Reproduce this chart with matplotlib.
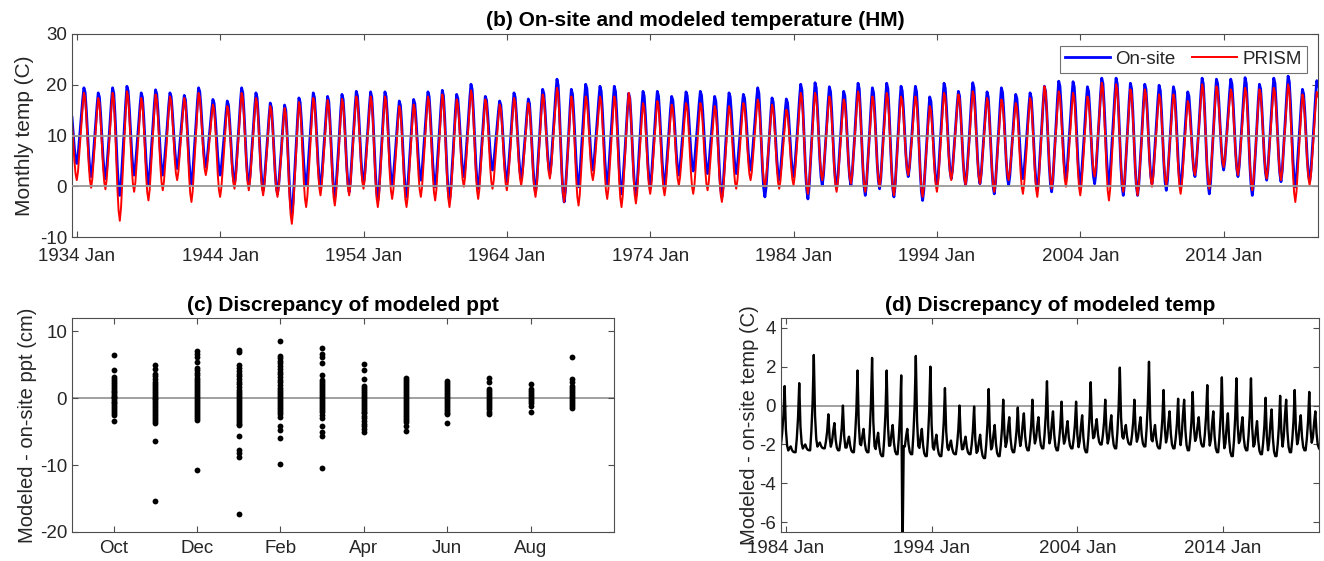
import matplotlib
matplotlib.use("Agg")
import matplotlib.pyplot as plt
import matplotlib.dates as mdates
import numpy as np
import pandas as pd
from datetime import datetime

# ---- (b) on-site vs PRISM monthly temperature, summer peak / January low per year (1933..2020)
FIRST_YEAR = 1933
ONSITE_PEAK = [16.6, 19.4, 18.4, 19.4, 19.7, 18.4, 19.0,
               18.4, 17.9, 19.4, 17.1, 16.8, 19.4, 18.4, 16.4, 16.0, 17.4,
               18.4, 17.7, 18.1, 18.7, 18.6, 18.6, 16.8, 17.1, 18.6, 18.9,
               18.1, 20.1, 17.7, 16.8, 18.4, 17.2, 19.1, 21.1, 19.1, 20.1,
               19.7, 19.7, 18.3, 18.7, 18.7, 17.7, 18.6, 18.7, 17.7, 18.4,
               18.1, 19.4, 17.4, 17.2, 20.1, 20.4, 19.6, 18.7, 20.3, 19.4,
               20.3, 19.7, 19.7, 17.6, 20.3, 18.7, 20.4, 18.6, 19.4, 18.1,
               18.4, 19.7, 20.7, 20.6, 19.6, 21.3, 21.3, 20.3, 20.1, 19.9,
               19.6, 18.6, 21.3, 21.1, 21.1, 21.4, 20.1, 21.3, 21.7, 19.1,
               20.8]
ONSITE_LOW = [5.0, 4.5, 1.9, 1.5, -1.8, 2.2, 0.5,
              2.2, 3.5, 0.5, 3.8, 2.2, 0.5, 0.2, -0.8, -1.5, -5.4,
              0.2, -0.1, -2.1, -1.1, 0.5, -2.8, 0.2, -2.1, 1.2, -0.1,
              -2.8, 1.9, -0.5, 3.2, 0.9, 1.5, -1.1, 2.5, -3.1, -0.1,
              3.2, 0.5, -1.5, -1.8, -0.1, 0.2, 2.2, 3.0, 2.5, -2.1,
              2.5, 3.2, -2.1, 1.2, 1.9, -2.5, 0.2, -0.5, 0.2, -1.8,
              -0.5, -2.1, 1.9, -2.8, -0.1, 1.5, 0.2, 0.5, -1.5, 0.2,
              1.5, -0.8, -1.1, 1.5, 0.2, 0.5, 0.5, -1.8, -1.8, 0.5,
              -0.8, -0.1, 1.9, -1.5, 3.2, 1.9, -1.8, 1.2, 0.9, -0.1,
              0.9]
PRISM_PEAK = [16.4, 18.4, 17.4, 18.4, 18.7, 17.4, 18.1,
              17.7, 17.4, 18.4, 16.1, 15.8, 18.4, 17.4, 15.8, 15.4, 16.6,
              17.4, 17.0, 17.2, 17.7, 17.7, 17.7, 15.8, 16.1, 17.7, 18.1,
              17.1, 18.9, 17.1, 16.1, 17.4, 16.4, 18.1, 19.4, 17.7, 17.7,
              17.7, 17.7, 18.4, 16.4, 16.8, 16.1, 16.4, 16.4, 15.8, 15.8,
              16.4, 17.1, 16.1, 15.1, 18.4, 18.4, 17.7, 17.1, 18.7, 17.7,
              18.4, 17.7, 17.7, 15.8, 18.4, 18.1, 18.7, 17.4, 17.1, 16.4,
              17.4, 19.7, 18.7, 18.4, 17.7, 20.4, 20.1, 19.1, 19.1, 18.1,
              18.1, 16.8, 20.1, 19.7, 19.1, 19.4, 19.1, 19.4, 20.1, 18.1,
              18.6]
PRISM_LOW = [4.0, 1.2, -0.3, -0.6, -6.8, -1.1, -2.8,
             -0.8, 1.2, -3.1, 2.2, -2.1, -0.5, -0.8, -1.8, -2.1, -7.4,
             -4.1, -1.8, -3.8, -1.8, -0.5, -4.1, -2.5, -4.1, -2.1, -2.8,
             -4.1, -0.1, -2.5, -0.5, -0.8, 0.2, -2.1, 1.5, -3.1, -3.8,
             1.2, -2.5, -4.1, -3.4, -1.5, -1.8, 0.2, -1.5, -0.8, -3.1,
             -0.5, 1.2, -0.1, -0.5, 0.2, -1.5, 1.2, -1.1, 0.5, -1.1,
             -0.1, -1.8, 2.2, -2.1, -1.1, 1.2, 0.2, 0.5, -1.1, 1.2,
             -1.5, -2.1, -0.5, -0.1, -1.8, 1.9, -2.8, -1.1, -1.8, -0.1,
             0.2, -1.5, 2.2, -0.5, 3.8, 2.2, -0.8, 1.5, 1.2, -3.1,
             0.2]
# share of the summer swing reached in each calendar month, Jan..Dec
SEASON_SHAPE = [0.0, 0.1, 0.27, 0.45, 0.65, 0.85, 1.0, 0.95, 0.75, 0.5, 0.25, 0.08]

# ---- (c) PRISM minus on-site precipitation (cm), by month of the water year
PPT_MONTHS = ["Oct", "Nov", "Dec", "Jan", "Feb", "Mar", "Apr", "May", "Jun", "Jul", "Aug", "Sep"]
PPT_OCT = [6.4, 4.2, 3.2, 2.9, 2.6, 2.3, 2.0, 1.7, 1.4, 1.1, 0.9, 0.6, 0.4, 0.2, 0.0, -0.2,
           -0.5, -0.7, -1.0, -1.3, -1.6, -1.9, -2.2, -2.5, -3.4]
PPT_NOV = [5.0, 4.3, 3.7, 3.3, 2.9, 2.5, 2.1, 1.8, 1.5, 1.2, 0.9, 0.6, 0.3, 0.1, -0.1, -0.4,
           -0.7, -1.0, -1.3, -1.6, -1.9, -2.2, -2.5, -2.8, -3.1, -3.4, -3.7, -6.4, -15.3]
PPT_DEC = [7.1, 6.6, 6.1, 5.4, 4.5, 4.2, 3.8, 3.5, 3.1, 2.8, 2.4, 2.1, 1.8, 1.5, 1.2, 0.9, 0.6,
           0.3, 0.1, -0.2, -0.5, -0.8, -1.1, -1.4, -1.7, -2.0, -2.3, -2.6, -2.9, -3.2, -10.7]
PPT_JAN = [7.2, 6.9, 4.9, 4.5, 4.1, 3.7, 3.3, 2.9, 2.5, 2.1, 1.7, 1.3, 1.0, 0.7, 0.4, 0.1, -0.2,
           -0.5, -0.8, -1.1, -1.4, -1.7, -2.0, -2.3, -2.6, -2.9, -3.2, -3.5, -3.8, -4.0, -5.6,
           -7.7, -8.2, -8.8, -17.3]
PPT_FEB = [8.5, 6.3, 6.0, 5.6, 5.2, 4.8, 4.4, 4.0, 3.6, 3.2, 2.8, 2.4, 2.0, 1.6, 1.3, 1.0, 0.7,
           0.4, 0.1, -0.2, -0.5, -0.8, -1.1, -1.4, -1.7, -2.0, -2.4, -2.8, -4.2, -4.7, -5.9, -9.8]
PPT_MAR = [7.5, 6.6, 6.2, 5.2, 3.5, 2.7, 2.4, 2.1, 1.8, 1.5, 1.2, 0.9, 0.6, 0.3, 0.0, -0.3, -0.6,
           -0.9, -1.2, -1.5, -1.8, -2.1, -2.5, -2.9, -4.2, -5.0, -5.6, -10.5]
PPT_APR = [5.1, 4.2, 2.9, 1.9, 1.6, 1.3, 1.0, 0.7, 0.4, 0.1, -0.2, -0.5, -0.8, -1.1, -1.4, -1.7,
           -2.0, -2.2, -2.6, -3.0, -3.4, -3.8, -4.2, -4.6, -5.0]
PPT_MAY = [3.1, 2.8, 2.5, 2.2, 1.9, 1.6, 1.3, 1.0, 0.7, 0.4, 0.1, -0.2, -0.5, -0.8, -1.1, -1.4,
           -1.7, -2.0, -2.3, -2.6, -2.9, -3.2, -3.5, -4.2, -4.9]
PPT_JUN = [2.6, 2.3, 2.0, 1.7, 1.4, 1.1, 0.8, 0.5, 0.2, -0.1, -0.4, -0.7, -1.0, -1.3, -1.6,
           -1.9, -2.2, -2.4, -3.7]
PPT_JUL = [3.1, 2.5, 1.4, 1.1, 0.8, 0.5, 0.2, -0.1, -0.4, -0.7, -1.0, -1.3, -1.6, -2.1, -2.4]
PPT_AUG = [2.2, 1.4, 1.1, 0.8, 0.5, 0.2, -0.1, -0.4, -0.7, -1.1, -2.1]
PPT_SEP = [6.1, 2.9, 2.5, 1.9, 1.6, 1.3, 1.0, 0.7, 0.4, 0.1, -0.2, -0.5, -0.8, -1.1, -1.4]

# ---- (d) PRISM minus on-site temperature (C), per year 1983..2020
DIFF_FIRST_YEAR = 1983
DIFF_BASE = [-2.0, -2.4, -2.3, -2.2, -2.3, -2.4, -2.4, -2.6, -2.5, -2.5,
             -2.6, -2.6, -2.5, -2.5, -2.7, -2.6, -2.4, -2.3, -2.2, -2.3,
             -2.2, -2.4, -2.0, -2.2, -2.0, -2.1, -2.2, -2.2, -2.3, -2.1,
             -2.4, -2.6, -2.3, -2.5, -2.6, -2.4, -2.3, -2.2]
DIFF_SPRING = [-2.0, -2.1, -2.0, -1.9, -0.9, -1.6, -1.2, -1.4, -1.0, -1.2,
               -1.2, -1.5, -1.8, -1.6, -1.5, -1.0, -0.6, -0.4, -0.6, -0.3,
               -0.8, -0.5, -0.7, -0.5, -1.0, -0.6, -1.0, -0.3, 0.3, -0.6,
               -0.3, -0.4, -0.6, -0.8, -0.2, 0.3, -0.5, -0.3]
DIFF_WINTER = [1.0, 1.15, 2.6, -0.45, 0.0, 1.8, 2.45, 1.8, 1.55, 2.55,
               2.0, 0.9, 0.0, -0.05, 0.85, 0.3, -0.1, 0.3, 1.25, 0.2,
               0.2, 1.2, 0.3, 1.95, 0.3, 2.25, 0.8, 0.35, 0.7, 1.05,
               1.45, 1.4, 1.4, 0.4, 0.5, 0.8, 0.7, 0.0]
DIFF_OUTLIER_DATE = "1992-01-01"
DIFF_OUTLIER_VALUE = -8.0

SPRING_WEIGHT = {2: 0.3, 3: 0.7, 4: 1.0, 5: 0.4, 6: 0.1}
WINTER_WEIGHT = {9: 0.2, 10: 0.5, 11: 1.0}
WINTER_TAIL = {0: 0.35, 1: 0.1}

NARROW = ["Liberation Sans Narrow", "Liberation Sans", "DejaVu Sans"]
TEXT_COLOR = "#262626"
FRAME_COLOR = "#4d4d4d"
ZERO_COLOR = "#999999"


def monthly_temps(peaks, lows, dates):
    vals = []
    for d in dates:
        i = d.year - FIRST_YEAR
        m = d.month - 1
        lo = lows[i] if m <= 6 else lows[min(i + 1, len(lows) - 1)]
        vals.append(lo + SEASON_SHAPE[m] * (peaks[i] - lo))
    return np.array(vals)


def monthly_discrepancy(dates):
    vals = []
    for d in dates:
        i = d.year - DIFF_FIRST_YEAR
        m = d.month - 1
        base = DIFF_BASE[i]
        v = base
        if m in WINTER_TAIL and i > 0:
            v += WINTER_TAIL[m] * (DIFF_WINTER[i - 1] - base)
        if m in SPRING_WEIGHT:
            v += SPRING_WEIGHT[m] * (DIFF_SPRING[i] - base)
        if m in WINTER_WEIGHT:
            v += WINTER_WEIGHT[m] * (DIFF_WINTER[i] - base)
        vals.append(v)
    s = pd.Series(vals, index=dates)
    s[pd.Timestamp(DIFF_OUTLIER_DATE)] = DIFF_OUTLIER_VALUE
    return s


def style_axes(ax, fontsize, family, xpad=4):
    ax.tick_params(direction="in", top=True, right=True, length=4, width=0.8,
                   colors=FRAME_COLOR, labelcolor=TEXT_COLOR, labelsize=fontsize)
    ax.tick_params(axis="x", pad=xpad)
    for lbl in ax.get_xticklabels() + ax.get_yticklabels():
        lbl.set_family(family)
    for sp in ax.spines.values():
        sp.set_color(FRAME_COLOR)
        sp.set_linewidth(0.8)


def plot_temps(ax):
    dates = pd.date_range("1933-09-01", "2020-08-01", freq="MS")
    onsite = monthly_temps(ONSITE_PEAK, ONSITE_LOW, dates)
    prism = monthly_temps(PRISM_PEAK, PRISM_LOW, dates)
    ax.plot(dates, onsite, color="#0000ff", lw=2.0, label="On-site")
    ax.plot(dates, prism, color="#ff0000", lw=1.4, label="PRISM")
    ax.axhline(0, color=ZERO_COLOR, lw=1.3, zorder=3)
    ax.axhline(10, color=ZERO_COLOR, lw=1.3, zorder=3)
    ax.set_xlim(dates[0], dates[-1])
    ax.set_ylim(-10, 30)
    ax.set_yticks([-10, 0, 10, 20, 30])
    ax.set_xticks([datetime(y, 1, 1) for y in range(1934, 2021, 10)])
    ax.xaxis.set_major_formatter(mdates.DateFormatter("%Y %b"))
    style_axes(ax, 13.5, "Liberation Sans", xpad=8)
    ax.set_ylabel("Monthly temp (C)", fontsize=15, color=TEXT_COLOR, labelpad=4)
    ax.set_title("(b) On-site and modeled temperature (HM)", fontsize=15,
                 fontweight="bold", color="black", pad=6)
    leg = ax.legend(loc="upper right", bbox_to_anchor=(1 - 11 / 1246, 1 - 12 / 203),
                    borderaxespad=0, ncol=2, fontsize=13.5, frameon=True, fancybox=False,
                    handlelength=2.4, handletextpad=0.3, columnspacing=0.9,
                    borderpad=0.25)
    leg.get_frame().set_edgecolor(FRAME_COLOR)
    leg.get_frame().set_linewidth(0.8)
    for t in leg.get_texts():
        t.set_color(TEXT_COLOR)


def plot_ppt(ax):
    columns = [PPT_OCT, PPT_NOV, PPT_DEC, PPT_JAN, PPT_FEB, PPT_MAR,
               PPT_APR, PPT_MAY, PPT_JUN, PPT_JUL, PPT_AUG, PPT_SEP]
    for k, vals in enumerate(columns, start=1):
        ax.plot(np.full(len(vals), k), vals, "o", color="black", ms=4.2, mew=0)
    ax.axhline(0, color=ZERO_COLOR, lw=1.3, zorder=0)
    ax.set_xlim(0, 13)
    ax.set_ylim(-20, 12)
    ax.set_yticks([-20, -10, 0, 10])
    ax.set_xticks(range(1, 13, 2))
    ax.set_xticklabels(PPT_MONTHS[::2])
    style_axes(ax, 13.5, NARROW, xpad=6)
    ax.set_ylabel("Modeled - on-site ppt (cm)", fontsize=14.5, color=TEXT_COLOR,
                  family=NARROW, labelpad=2)
    ax.set_title("(c) Discrepancy of modeled ppt", fontsize=15, fontweight="bold",
                 family=NARROW, color="black", pad=5)


def plot_diff(ax):
    dates = pd.date_range("1983-09-01", "2020-08-01", freq="MS")
    diff = monthly_discrepancy(dates)
    ax.plot(diff.index, diff.values, color="black", lw=1.7)
    ax.axhline(0, color=ZERO_COLOR, lw=1.3, zorder=0)
    ax.set_xlim(dates[0], dates[-1])
    ax.set_ylim(-6.5, 4.5)
    ax.set_yticks([-6, -4, -2, 0, 2, 4])
    ax.set_xticks([datetime(y, 1, 1) for y in range(1984, 2021, 10)])
    ax.xaxis.set_major_formatter(mdates.DateFormatter("%Y %b"))
    style_axes(ax, 13.5, NARROW, xpad=6)
    ax.set_ylabel("Modeled - on-site temp (C)", fontsize=14.5, color=TEXT_COLOR,
                  family=NARROW, labelpad=0)
    ax.set_title("(d) Discrepancy of modeled temp", fontsize=15, fontweight="bold",
                 family=NARROW, color="black", pad=5)


if __name__ == "__main__":
    plt.rcParams["font.family"] = ["Liberation Sans", "DejaVu Sans"]
    plt.rcParams["axes.unicode_minus"] = False
    fig = plt.figure(figsize=(13.24, 5.61), dpi=100)
    ax_b = fig.add_axes([72 / 1324, 1 - 237 / 561, 1246 / 1324, 203 / 561])
    ax_c = fig.add_axes([72 / 1324, 1 - 532 / 561, 542 / 1324, 214 / 561])
    ax_d = fig.add_axes([781 / 1324, 1 - 532 / 561, 538 / 1324, 214 / 561])
    plot_temps(ax_b)
    plot_ppt(ax_c)
    plot_diff(ax_d)
    fig.savefig("out.png", dpi=100)
